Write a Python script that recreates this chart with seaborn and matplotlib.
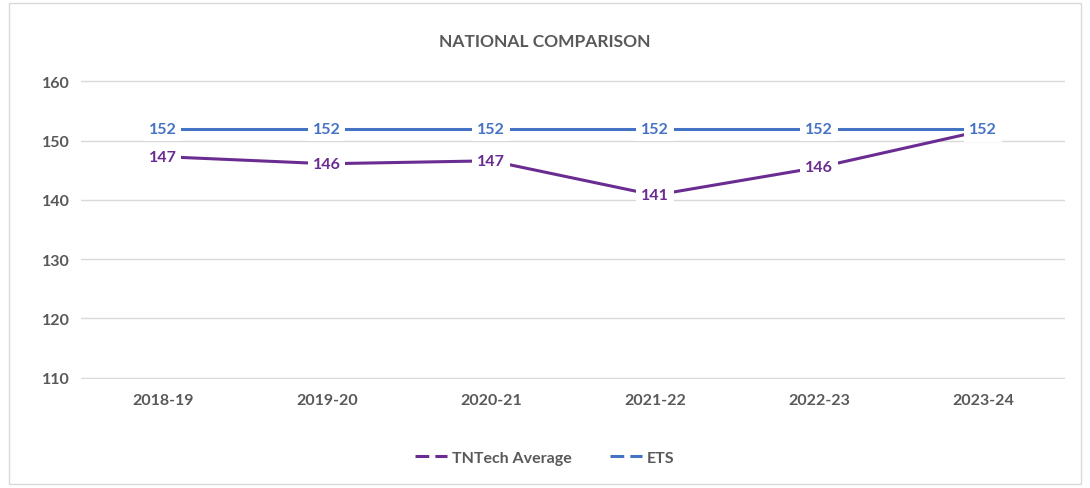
import pandas as pd
import matplotlib.pyplot as plt
import seaborn as sns
from matplotlib.lines import Line2D
from matplotlib.patches import Rectangle

years = ["2018-19", "2019-20", "2020-21", "2021-22", "2022-23", "2023-24"]
tntech = [147.3, 146.1, 146.6, 140.8, 145.5, 151.7]
ets = [152, 152, 152, 152, 152, 152]

PURPLE = "#6A2C91"
BLUE = "#4472C4"
GREY = "#595959"


def build_frame():
    df = pd.DataFrame({
        "Year": years * 2,
        "Score": tntech + ets,
        "Series": ["TNTech Average"] * len(years) + ["ETS"] * len(years),
    })
    return df


def main():
    sns.set_style("white")
    plt.rcParams["font.family"] = ["Lato", "DejaVu Sans"]

    df = build_frame()
    fig = plt.figure(figsize=(10.9, 4.89), dpi=100)
    ax = fig.add_axes([0.074, 0.223, 0.903, 0.611])

    sns.lineplot(data=df, x="Year", y="Score", hue="Series",
                 palette={"TNTech Average": PURPLE, "ETS": BLUE},
                 linewidth=2.2, ax=ax, legend=False, sort=False)

    # data labels, purple first so blue sits on top where they meet
    for series, vals, col, z in [("TNTech Average", tntech, PURPLE, 5),
                                 ("ETS", ets, BLUE, 6)]:
        for i, v in enumerate(vals):
            ax.text(i, v, f"{v:.0f}", ha="center", va="center", color=col,
                    fontsize=11.5, fontweight="bold", zorder=z,
                    bbox=dict(boxstyle="square,pad=0.3", fc="white", ec="none"))

    ax.set_xlim(-0.5, len(years) - 0.5)
    ax.set_ylim(109.8, 160.2)
    ax.set_yticks(range(110, 161, 10))
    ax.grid(axis="y", color="#D9D9D9", linewidth=1)
    ax.set_axisbelow(True)
    for s in ax.spines.values():
        s.set_visible(False)
    ax.tick_params(axis="both", length=0, labelsize=11.5, labelcolor=GREY, pad=10)
    for lab in ax.get_xticklabels() + ax.get_yticklabels():
        lab.set_fontweight("bold")
    ax.tick_params(axis="y", pad=28)
    for lab in ax.get_yticklabels():
        lab.set_horizontalalignment("left")
    ax.set_xlabel("")
    ax.set_ylabel("")

    fig.text(0.5, 0.914, "NATIONAL COMPARISON", ha="center", va="center",
             fontsize=12.5, color=GREY, fontweight="bold")

    handles = [Line2D([0], [0], color=PURPLE, lw=2.2, dashes=(4.5, 2)),
               Line2D([0], [0], color=BLUE, lw=2.2, dashes=(4.5, 2))]
    fig.legend(handles, ["TNTech Average", "ETS"], loc="center",
               bbox_to_anchor=(0.5, 0.062), ncol=2, frameon=False,
               handlelength=2.0, handletextpad=0.3, columnspacing=2.4,
               prop={"size": 11.5, "weight": "bold"}, labelcolor=GREY)

    fig.add_artist(Rectangle((0.008, 0.008), 0.984, 0.984, transform=fig.transFigure,
                             fill=False, ec="#D9D9D9", lw=1))

    fig.savefig("out.png", dpi=100)


if __name__ == "__main__":
    main()
